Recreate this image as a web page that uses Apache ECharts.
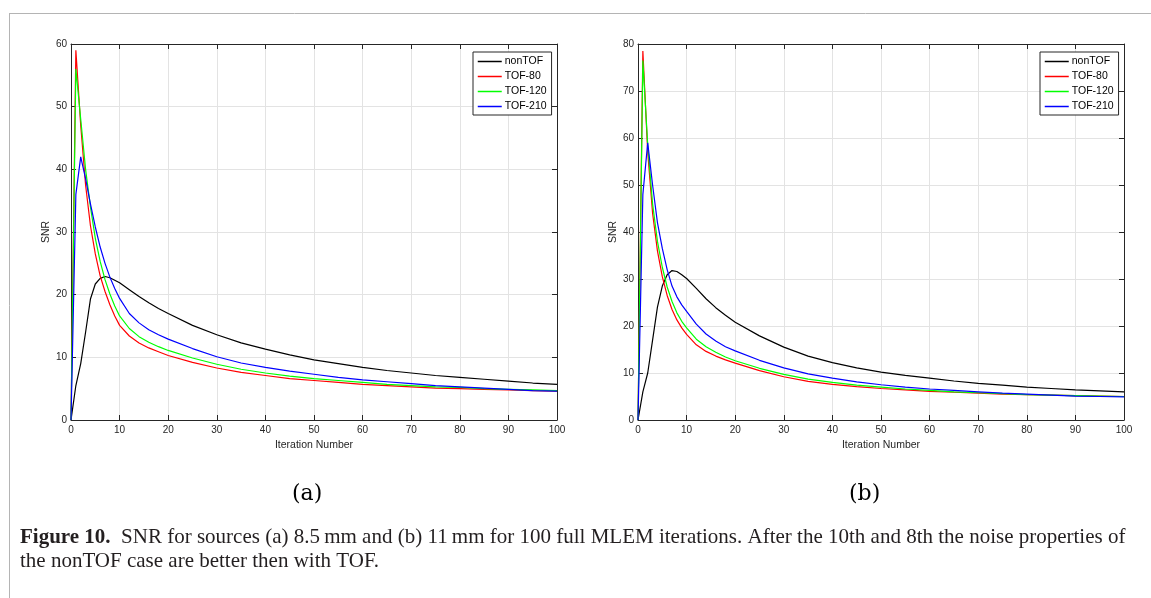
<!DOCTYPE html>
<html>
<head>
<meta charset="utf-8">
<script src="https://cdn.jsdelivr.net/npm/echarts@6/dist/echarts.min.js"></script>
<style>
  html, body { margin: 0; padding: 0; background: #fff; }
  #chart { width: 1151px; height: 598px; }
</style>
</head>
<body>
<div id="chart"></div>
<script>
// Iteration numbers at which SNR is sampled
const iterations = [0,1,2,3,4,5,6,7,8,9,10,12,14,16,18,20,25,30,35,40,45,50,55,60,65,70,75,80,85,90,95,100];

// (a) 8.5 mm source
const nonTOF_a = [0,5.5,9,14,19.3,21.7,22.6,22.9,22.7,22.3,21.9,20.8,19.7,18.7,17.8,17.0,15.1,13.6,12.3,11.3,10.4,9.6,9.0,8.4,7.9,7.5,7.1,6.8,6.5,6.2,5.9,5.7];
const tof80_a  = [0,59,47,37.5,31,26.5,23,20.5,18.4,16.6,15.1,13.4,12.3,11.5,10.9,10.3,9.2,8.3,7.6,7.1,6.6,6.3,6.0,5.7,5.5,5.3,5.1,5.0,4.9,4.8,4.7,4.6];
const tof120_a = [0,56,48,40,34,29,25.3,22.4,20.1,18.2,16.6,14.6,13.3,12.4,11.7,11.1,9.9,8.9,8.1,7.5,7.0,6.6,6.3,6.0,5.7,5.5,5.3,5.2,5.0,4.9,4.8,4.7];
const tof210_a = [0,36,42,38.5,34.5,30.8,27.6,25,22.8,21,19.4,17,15.5,14.4,13.6,12.9,11.4,10.1,9.1,8.4,7.8,7.3,6.8,6.4,6.1,5.8,5.5,5.3,5.1,4.9,4.7,4.6];

// (b) 11 mm source
const nonTOF_b = [0,6,10,17,24,28.5,30.9,31.8,31.6,30.9,30.1,28.0,25.8,23.9,22.3,20.8,17.9,15.5,13.6,12.2,11.1,10.2,9.5,8.9,8.3,7.8,7.4,7.0,6.7,6.4,6.2,6.0];
const tof80_b  = [0,78.5,57,44,36,30.5,26.5,23.5,21.3,19.6,18.2,16.0,14.6,13.6,12.8,12.1,10.5,9.2,8.2,7.6,7.1,6.7,6.4,6.1,5.9,5.7,5.5,5.4,5.3,5.2,5.1,5.0];
const tof120_b = [0,76.5,58.5,46,38,32.5,28.3,25.2,22.8,21,19.6,17.2,15.6,14.4,13.4,12.6,11.0,9.7,8.7,8.0,7.4,7.0,6.6,6.3,6.0,5.8,5.6,5.4,5.3,5.2,5.1,5.0];
const tof210_b = [0,48,59,50,42,36.5,32,28.5,26.2,24.5,23.1,20.4,18.3,16.8,15.6,14.7,12.7,11.1,9.8,8.9,8.1,7.5,7.0,6.6,6.3,6.0,5.7,5.5,5.3,5.1,5.0,4.9];

const seriesNames = ['nonTOF', 'TOF-80', 'TOF-120', 'TOF-210'];
const seriesColors = ['#000000', '#ff0000', '#00ff00', '#0000ff'];
const xTicks = { min: 0, max: 100, interval: 10 };
const yTicksA = { min: 0, max: 60, interval: 10 };
const yTicksB = { min: 0, max: 80, interval: 10 };
const xTitle = 'Iteration Number';
const yTitle = 'SNR';
const panelLabels = ['(a)', '(b)'];
const captionBold = 'Figure 10.';
const captionLine1 = 'SNR for sources (a) 8.5\u2009mm and (b) 11\u2009mm for 100 full MLEM iterations. After the 10th and 8th the noise properties of';
const captionLine2 = 'the nonTOF case are better then with TOF.';

const pairs = (ys) => iterations.map((x, i) => [x, ys[i]]);

const axisColor = '#262626';
const gridColor = '#e3e3e3';
const tickFont = { fontFamily: 'Liberation Sans, Arial, sans-serif', fontSize: 10, color: axisColor };

function mainX(gi) {
  return {
    type: 'value', gridIndex: gi, position: 'bottom',
    min: xTicks.min, max: xTicks.max, interval: xTicks.interval,
    name: xTitle, nameLocation: 'middle', nameGap: 14,
    nameTextStyle: { fontFamily: tickFont.fontFamily, fontSize: 10.5, color: axisColor },
    axisLine: { show: true, onZero: false, lineStyle: { color: axisColor, width: 1 } },
    axisTick: { show: true, inside: true, length: 5, lineStyle: { color: axisColor } },
    axisLabel: Object.assign({ margin: 5 }, tickFont),
    splitLine: { show: true, lineStyle: { color: gridColor, width: 1 } }
  };
}
function mirrorX(gi) {
  return {
    type: 'value', gridIndex: gi, position: 'top',
    min: xTicks.min, max: xTicks.max, interval: xTicks.interval,
    axisLine: { show: true, onZero: false, lineStyle: { color: axisColor, width: 1 } },
    axisTick: { show: true, inside: true, length: 5, lineStyle: { color: axisColor } },
    axisLabel: { show: false }, splitLine: { show: false }
  };
}
function mainY(gi, t) {
  return {
    type: 'value', gridIndex: gi, position: 'left',
    min: t.min, max: t.max, interval: t.interval,
    name: yTitle, nameLocation: 'middle', nameGap: 17, nameRotate: 90,
    nameTextStyle: { fontFamily: tickFont.fontFamily, fontSize: 10.5, color: axisColor },
    axisLine: { show: true, onZero: false, lineStyle: { color: axisColor, width: 1 } },
    axisTick: { show: true, inside: true, length: 5, lineStyle: { color: axisColor } },
    axisLabel: Object.assign({ margin: 4 }, tickFont),
    splitLine: { show: true, lineStyle: { color: gridColor, width: 1 } }
  };
}
function mirrorY(gi, t) {
  return {
    type: 'value', gridIndex: gi, position: 'right',
    min: t.min, max: t.max, interval: t.interval,
    axisLine: { show: true, onZero: false, lineStyle: { color: axisColor, width: 1 } },
    axisTick: { show: true, inside: true, length: 5, lineStyle: { color: axisColor } },
    axisLabel: { show: false }, splitLine: { show: false }
  };
}

function makeSeries(xi, yi, data) {
  return data.map((ys, k) => ({
    name: seriesNames[k], type: 'line', xAxisIndex: xi, yAxisIndex: yi,
    data: pairs(ys), symbol: 'none', smooth: false, animation: false,
    lineStyle: { color: seriesColors[k], width: 1.2 }, itemStyle: { color: seriesColors[k] },
    z: 3
  }));
}

function makeLegend(left) {
  return {
    show: true, orient: 'vertical', left: left, top: 52,
    data: seriesNames, selectedMode: false,
    backgroundColor: '#ffffff', borderColor: axisColor, borderWidth: 1,
    padding: [4, 5, 3, 4], itemWidth: 24, itemHeight: 8, itemGap: 4,
    itemStyle: { opacity: 0 },
    lineStyle: { width: 1.5 },
    textStyle: { fontFamily: tickFont.fontFamily, fontSize: 10.5, color: '#000', padding: [0, 0, 0, -2] }
  };
}

const serif = '"Liberation Serif", "Times New Roman", serif';

const chart = echarts.init(document.getElementById('chart'), null, { renderer: 'canvas' });
chart.setOption({
  backgroundColor: '#ffffff',
  animation: false,
  grid: [
    { left: 71, top: 44, width: 486, height: 376, containLabel: false },
    { left: 638, top: 44, width: 486, height: 376, containLabel: false }
  ],
  xAxis: [mainX(0), mirrorX(0), mainX(1), mirrorX(1)],
  yAxis: [mainY(0, yTicksA), mirrorY(0, yTicksA), mainY(1, yTicksB), mirrorY(1, yTicksB)],
  legend: [makeLegend(473), makeLegend(1040)],
  series: [].concat(
    makeSeries(0, 0, [nonTOF_a, tof80_a, tof120_a, tof210_a]),
    makeSeries(2, 2, [nonTOF_b, tof80_b, tof120_b, tof210_b])
  ),
  graphic: [
    // page frame
    { type: 'line', shape: { x1: 9, y1: 13.5, x2: 1151, y2: 13.5 }, style: { stroke: '#b4b4b4', lineWidth: 1 }, silent: true },
    { type: 'line', shape: { x1: 9.5, y1: 13, x2: 9.5, y2: 598 }, style: { stroke: '#b4b4b4', lineWidth: 1 }, silent: true },
    // panel labels
    { type: 'text', left: 292, top: 483, style: { text: panelLabels[0], font: '22px "DejaVu Serif", serif', fill: '#000' } },
    { type: 'text', left: 849, top: 483, style: { text: panelLabels[1], font: '22px "DejaVu Serif", serif', fill: '#000' } },
    // caption
    { type: 'text', left: 20, top: 527, style: {
        text: '{b|' + captionBold + '}  ' + captionLine1,
        font: '21px ' + serif, fill: '#231f20',
        rich: { b: { font: 'bold 21px ' + serif, fill: '#231f20' } }
    } },
    { type: 'text', left: 20, top: 551, style: { text: captionLine2, font: '21px ' + serif, fill: '#231f20' } }
  ]
});
</script>
</body>
</html>
